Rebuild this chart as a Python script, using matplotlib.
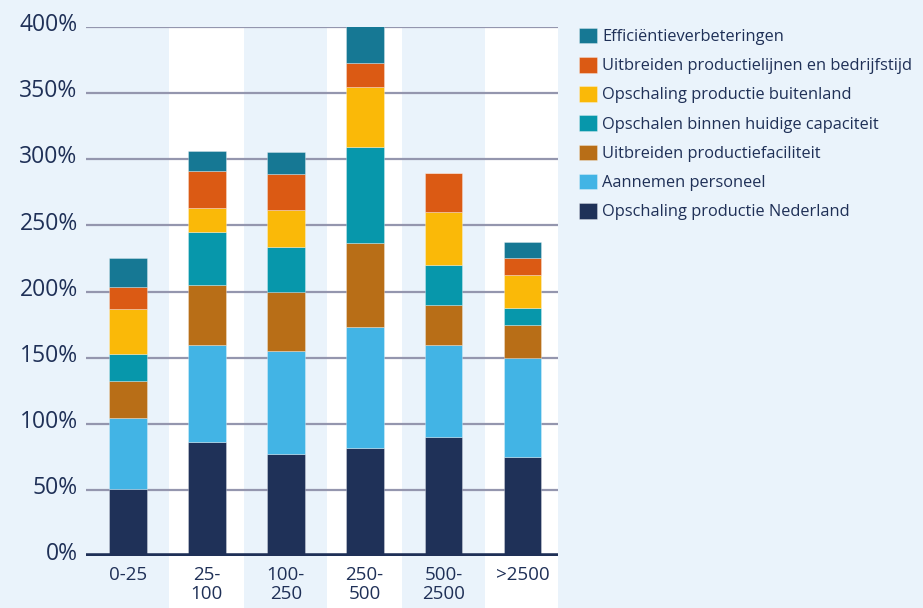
import numpy as np
import matplotlib.pyplot as plt
import matplotlib.transforms as mtransforms
from matplotlib.patches import Rectangle

categories = ['0-25', '25-\n100', '100-\n250', '250-\n500', '500-\n2500', '>2500']

series_names = [
    'Opschaling productie Nederland',
    'Aannemen personeel',
    'Uitbreiden productiefaciliteit',
    'Opschalen binnen huidige capaciteit',
    'Opschaling productie buitenland',
    'Uitbreiden productielijnen en bedrijfstijd',
    'Efficiëntieverbeteringen',
]

nederland = [51, 86.5, 77.5, 82, 90, 75]
personeel = [53.5, 73, 77.5, 91, 69.5, 75]
faciliteit = [28, 45.5, 45, 63.5, 30.5, 25]
capaciteit = [20, 40, 33.5, 73, 30, 12.5]
buitenland = [34, 18, 28, 45.5, 40, 25]
lijnen = [17, 28, 27.5, 18, 29.5, 12.5]
efficientie = [21.5, 15.5, 16.5, 27.5, 0, 12.5]

colors = ['#1f3158', '#42b4e5', '#b86e17', '#0797ab', '#fab908', '#db5a14', '#167894']

bg = '#eaf3fb'
navy = '#1f3057'

plt.rcParams['font.family'] = ['Open Sans', 'DejaVu Sans']

fig = plt.figure(figsize=(9.23, 6.08), dpi=100, facecolor=bg)
ax = fig.add_axes([86 / 923, 52 / 608, (558 - 86) / 923, (556 - 27) / 608])
ax.set_facecolor('none')

x = np.arange(len(categories))
xmin, xmax = -0.53, 5.45
ax.set_xlim(xmin, xmax)
ax.set_ylim(0, 400)

# white bands behind every other category
for i in x[1::2]:
    left = max(i - 0.475, xmin)
    right = min(i + 0.475, xmax)
    ax.add_patch(Rectangle((left, -60), right - left, 460, facecolor='white',
                           edgecolor='none', zorder=0, clip_on=False))

for v in [50, 100, 150, 200, 250, 300, 350, 400]:
    ax.axhline(v, color='#9496ae', lw=1.6, zorder=1)

data = [nederland, personeel, faciliteit, capaciteit, buitenland, lijnen, efficientie]
bottom = np.zeros(len(categories))
handles = []
for name, vals, c in zip(series_names, data, colors):
    vals = np.array(vals, dtype=float)
    b = ax.bar(x, vals, 0.48, bottom=bottom, color=c, label=name, zorder=2,
               edgecolor=(1, 1, 1, 0.35), linewidth=0.6)
    handles.append(b)
    bottom += vals

ax.axhline(0, color=navy, lw=4, zorder=3)

for s in ax.spines.values():
    s.set_visible(False)

yt = [0, 50, 100, 150, 200, 250, 300, 350, 400]
ax.set_yticks(yt)
ax.set_yticklabels([f'{v}%' for v in yt])
ax.set_xticks(x)
ax.set_xticklabels(categories, linespacing=1.1)
ax.tick_params(axis='y', length=0, pad=6, labelsize=16.5, labelcolor=navy)
ax.tick_params(axis='x', length=0, pad=7, labelsize=13.5, labelcolor=navy)
shift = mtransforms.ScaledTranslation(0, 3.5 / 72, fig.dpi_scale_trans)
for lab in ax.get_yticklabels():
    lab.set_transform(lab.get_transform() + shift)

leg = fig.legend(handles[::-1], series_names[::-1], loc='upper left',
                 bbox_to_anchor=(572 / 923, 1 - 21 / 608), frameon=False,
                 fontsize=11.8, labelcolor=navy, handlelength=1.15, handleheight=1.1,
                 handletextpad=0.3, labelspacing=0.72, borderaxespad=0)

fig.savefig('out.png', dpi=100, facecolor=bg)
